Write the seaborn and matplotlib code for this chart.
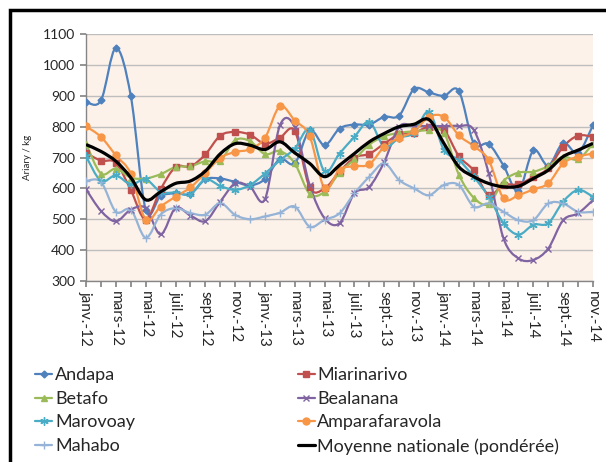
import numpy as np
import matplotlib
matplotlib.use("Agg")
import matplotlib.pyplot as plt
from matplotlib.path import Path
from matplotlib.patches import PathPatch, Rectangle
from matplotlib.lines import Line2D
import seaborn as sns

# ======== DATA ========
month_names = ["janv.", "févr.", "mars", "avr.", "mai", "juin",
               "juil.", "août", "sept.", "oct.", "nov.", "déc."]
months = [f"{m}-{y}" for y in ("12", "13", "14") for m in month_names][:35]

andapa = [880, 885, 1055, 900, 531, 575, 584, 582, 629, 632, 621, 610, 630, 695, 681, 788, 740, 794,
          807, 807, 832, 836, 922, 911, 900, 916, 747, 744, 674, 591, 723, 674, 747, 715, 805]
miarinarivo = [715, 690, 683, 595, 499, 597, 669, 671, 710, 771, 783, 774, 745, 764, 786, 603, 600, 654,
               700, 712, 745, 775, 780, 800, 790, 705, 658, 579, 611, 613, 637, 665, 735, 771, 767]
betafo = [745, 648, 664, 635, 632, 646, 669, 672, 688, 690, 756, 753, 711, 721, 681, 582, 589, 651,
          694, 742, 769, 780, 785, 788, 780, 645, 570, 549, 624, 651, 654, 672, 702, 694, 745]
bealanana = [597, 527, 493, 531, 536, 451, 536, 512, 494, 557, 616, 605, 565, 804, 799, 610, 503, 487,
             584, 605, 686, 800, 802, 802, 802, 802, 790, 650, 438, 373, 368, 405, 497, 519, 562]
marovoay = [704, 624, 642, 613, 629, 589, 586, 582, 629, 608, 595, 611, 648, 691, 729, 790, 655, 713,
            767, 816, 735, 764, 780, 848, 725, 692, 638, 573, 487, 450, 482, 487, 557, 595, 573]
amparafaravola = [801, 767, 707, 648, 499, 541, 573, 603, 650, 699, 718, 727, 764, 866, 820, 769, 600, 661,
                  672, 678, 735, 764, 785, 832, 832, 772, 737, 692, 568, 578, 597, 616, 681, 703, 713]
mahabo = [624, 621, 524, 531, 440, 515, 536, 520, 515, 552, 514, 500, 509, 521, 541, 476, 498, 519,
          584, 638, 681, 627, 600, 578, 611, 611, 541, 551, 524, 497, 497, 551, 551, 524, 524]
moyenne = [742, 720, 688, 635, 563, 589, 616, 624, 656, 712, 745, 740, 726, 751, 715, 681, 638, 675,
           713, 751, 778, 800, 808, 823, 746, 670, 638, 616, 605, 607, 632, 659, 703, 724, 746]

series = [
    ("Andapa", andapa, "#4F81BD", "D", 3.5),
    ("Miarinarivo", miarinarivo, "#C0504D", "s", 5),
    ("Betafo", betafo, "#9BBB59", "^", 5),
    ("Bealanana", bealanana, "#8064A2", "x", 4.5),
    ("Marovoay", marovoay, "#4BACC6", (6, 2, 0), 6),
    ("Amparafaravola", amparafaravola, "#F79646", "o", 5),
    ("Mahabo", mahabo, "#95B3D7", "+", 6),
]


def smooth_path(xs, ys):
    # excel-like smoothed line: cubic bezier segments through the points
    pts = np.column_stack([xs, ys]).astype(float)
    n = len(pts)
    verts = [pts[0]]
    codes = [Path.MOVETO]
    for i in range(n - 1):
        p0 = pts[i - 1] if i > 0 else pts[i]
        p1, p2 = pts[i], pts[i + 1]
        p3 = pts[i + 2] if i + 2 < n else pts[i + 1]
        c1 = p1 + (p2 - p0) / 6.0
        c2 = p2 - (p3 - p1) / 6.0
        verts += [c1, c2, p2]
        codes += [Path.CURVE4] * 3
    return Path(verts, codes)


# ======== PLOT ========
sns.set_theme(style="white")
plt.rcParams['font.family'] = ['Lato', 'DejaVu Sans']

fig = plt.figure(figsize=(6.06, 4.62), dpi=100)
ax = fig.add_axes([0.142, 0.392, 0.8365, 0.534])
ax.set_facecolor("#FDF2EA")

x = np.arange(len(months))
for name, vals, color, marker, ms in series:
    ax.add_patch(PathPatch(smooth_path(x, vals), fill=False, edgecolor=color, lw=1.6, zorder=3))
    sns.lineplot(x=x, y=vals, ax=ax, color=color, marker=marker, markersize=ms,
                 markeredgecolor=color, markeredgewidth=1.0, linestyle="", zorder=4)

ax.add_patch(PathPatch(smooth_path(x, moyenne), fill=False, edgecolor="black", lw=2.3, zorder=5))

ax.set_xlim(0, len(months) - 1)
ax.set_ylim(300, 1100)
ax.set_yticks(np.arange(300, 1101, 100))
ax.set_xticks(x)
ax.set_xticklabels([m if i % 2 == 0 else "" for i, m in enumerate(months)],
                   rotation=270, fontsize=11)
ax.tick_params(axis="y", labelsize=10, length=4, color="#868686", pad=4, left=True)
ax.tick_params(axis="x", length=4, color="#868686", pad=3, bottom=True)
ax.yaxis.grid(True, color="#BEBEBE", lw=1.0)
ax.set_axisbelow(True)
for side in ("top", "right"):
    ax.spines[side].set_visible(False)
for side in ("left", "bottom"):
    ax.spines[side].set_color("#868686")
    ax.spines[side].set_linewidth(1.0)
ax.set_xlabel("")
ax.set_ylabel("Ariary / kg", fontsize=7, labelpad=8)

# legend, filled column by column
handles = []
for name, vals, color, marker, ms in series:
    handles.append(Line2D([], [], color=color, lw=1.6, marker=marker, markersize=ms,
                          markeredgecolor=color, markeredgewidth=1.0, label=name))
handles.append(Line2D([], [], color="black", lw=2.3, label="Moyenne nationale (pondérée)"))
order = [0, 2, 4, 6, 1, 3, 5, 7]
fig.legend([handles[i] for i in order], [handles[i].get_label() for i in order],
           loc="upper left", bbox_to_anchor=(0.058, 0.205), ncol=2, frameon=False,
           fontsize=13, handlelength=0.95, handletextpad=0.15, labelspacing=0.42,
           columnspacing=9.0, borderpad=0, borderaxespad=0)

# chart border (cropped)
fig.patches.append(Rectangle((0.0165, -0.2), 1.2, 1.178, transform=fig.transFigure,
                             fill=False, edgecolor="black", lw=2.5))

fig.savefig("out.png", dpi=100)
